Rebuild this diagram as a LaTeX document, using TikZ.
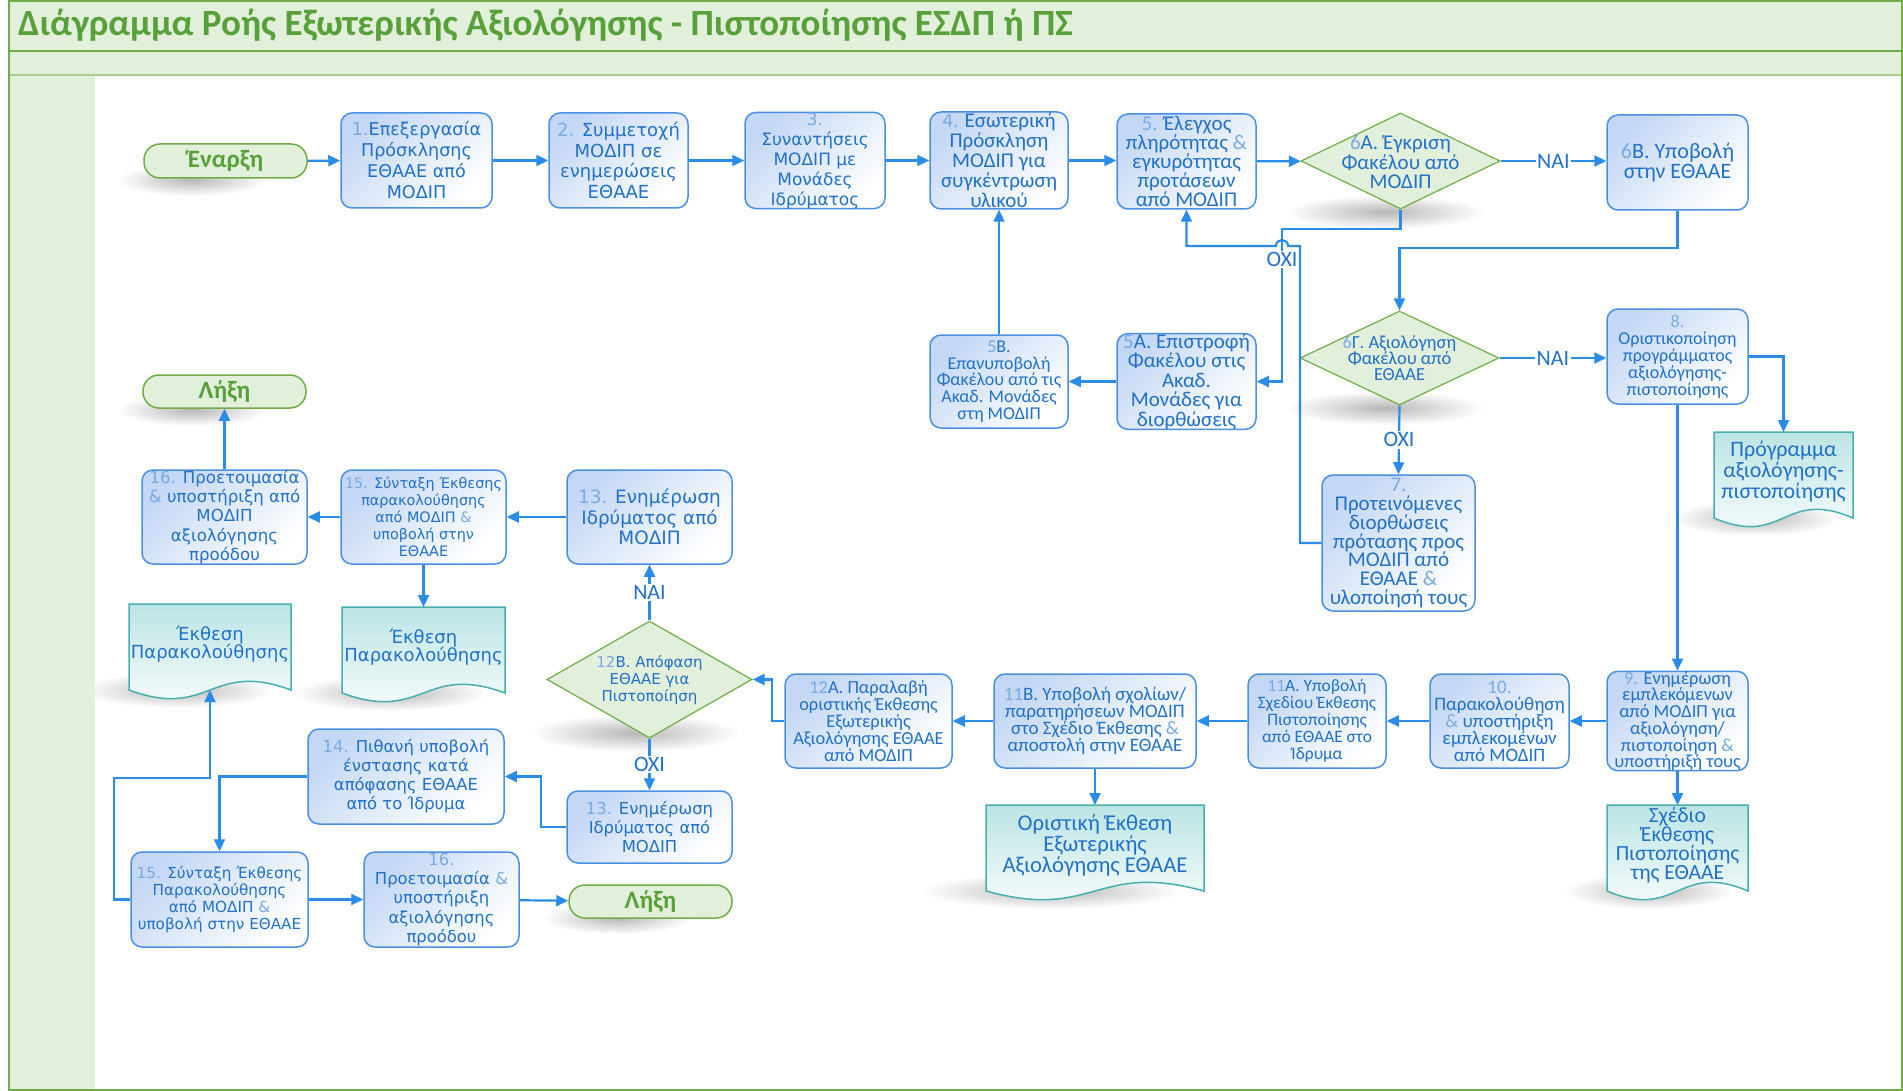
\documentclass[tikz,border=0pt]{standalone}
\usepackage{fontspec}
\setmainfont{Carlito}
\newfontfamily\fc{Carlito}
\newfontfamily\fd{DejaVu Sans}
\usetikzlibrary{shapes.geometric, arrows.meta, calc}
\definecolor{gfill}{RGB}{226,239,218}
\definecolor{gline}{RGB}{112,173,71}
\definecolor{gline2}{RGB}{169,208,142}
\definecolor{gtext}{RGB}{88,160,58}
\definecolor{bline}{RGB}{74,144,226}
\definecolor{bfill}{RGB}{196,215,245}
\definecolor{btext}{RGB}{33,113,200}
\definecolor{blight}{RGB}{120,170,228}
\definecolor{arrc}{RGB}{43,140,232}
\definecolor{dline}{RGB}{70,175,175}
\definecolor{dfill}{RGB}{188,228,228}
\newcommand\lnum[1]{\textcolor{blight}{#1}}
\newcommand\FC[2]{\fc\fontsize{#1}{#2}\selectfont}
\newcommand\FD[2]{\fd\fontsize{#1}{#2}\selectfont}
\tikzset{
  box/.style={draw=bline, line width=1.5pt, rounded corners=11pt, left color=bfill, right color=white, shading angle=45, text=btext, align=center, inner sep=0pt},
  dia/.style={diamond, draw=gline, line width=1.2pt, fill=gfill, inner sep=0pt},
  diatext/.style={text=btext, align=center, inner sep=0pt},
  term/.style={draw=gline, line width=1.5pt, fill=gfill, rounded corners=16pt, text=gtext, font=\fc\bfseries\fontsize{25}{25}\selectfont, inner sep=0pt},
  arr/.style={draw=arrc, line width=2.2pt, -{Triangle[length=12pt,width=11pt]}},
  lbl/.style={fill=white, text=btext, font=\FC{22}{22}, inner sep=1.5pt},
  doct/.style={text=btext, align=center, inner sep=0pt},
  docs/.style={draw=dline, line width=1.5pt, top color=dfill, bottom color=white},
  shad/.style={inner color=black!28, outer color=white},
}
\newcommand\mydoc[6]{%
  \pgfmathsetmacro\dxa{#2}%
  \pgfmathsetmacro\dxb{#2+#4}%
  \pgfmathsetmacro\dxm{#2+0.5*#4}%
  \pgfmathsetmacro\dya{#3}%
  \pgfmathsetmacro\dyb{#3+86}%
  \pgfmathsetmacro\dyc{#3+56}%
  \pgfmathsetmacro\dyd{#3+116}%
  \pgfmathsetmacro\dyt{#3+40}%
  \path[docs] (\dxa,\dya) -- (\dxb,\dya) -- (\dxb,\dyb) .. controls (\dxm,\dyc) and (\dxm,\dyd) .. (\dxa,\dyb) -- cycle;
  \node[doct, font=#5] (#1) at (\dxm,\dyt) {#6};
  \coordinate (#1-top) at (\dxm,\dya);
  \coordinate (#1-bot) at (\dxm,\dyb);
}
\newcommand\docshadow[3]{% left, top, width
  \pgfmathsetmacro\sx{#1+0.3*#3}%
  \pgfmathsetmacro\sy{#2+86}%
  \pgfmathsetmacro\srx{0.6*#3}%
  \shade[shad] (\sx,\sy) ellipse [x radius=\srx, y radius=18];
}
\begin{document}
\begin{tikzpicture}[x=1pt,y=-1pt]
\useasboundingbox (0,0) rectangle (1903,1091);
% shadows
\docshadow{129}{604}{162}
\docshadow{342}{607}{163}
\docshadow{986}{805}{218}
\docshadow{1607}{805}{141}
\docshadow{1714}{432}{139}
\shade[shad] (1385,212) ellipse [x radius=100, y radius=17];
\shade[shad] (1385,408) ellipse [x radius=100, y radius=17];
\shade[shad] (635,733) ellipse [x radius=105, y radius=19];
\shade[shad] (192,180) ellipse [x radius=75, y radius=16];
\shade[shad] (192,410) ellipse [x radius=75, y radius=16];
\shade[shad] (617,918) ellipse [x radius=75, y radius=16];
% frame
\fill[gfill] (9,1) rectangle (1902,75);
\fill[gfill] (9,75) rectangle (95,1090);
\draw[gline, line width=2pt] (9,51) -- (1902,51);
\draw[gline2, line width=2pt] (9,75) -- (1902,75);
\draw[gline, line width=2pt] (9,1) rectangle (1902,1090);
\node[anchor=west, text=gtext, font=\fc\bfseries\fontsize{37}{37}\selectfont, inner sep=0pt] (title) at (18,25) {Διάγραμμα Ροής Εξωτερικής Αξιολόγησης - Πιστοποίησης ΕΣΔΠ ή ΠΣ};
% documents
\mydoc{doc1}{129}{604}{162}{\FD{18}{18.5}}{Έκθεση\\Παρακολούθησης}
\mydoc{doc2}{342}{607}{163}{\FD{18}{18.5}}{Έκθεση\\Παρακολούθησης}
\mydoc{docor}{986}{805}{218}{\FC{22.6}{21}}{Οριστική Έκθεση\\Εξωτερικής\\Αξιολόγησης ΕΘΑΑΕ}
\mydoc{docsx}{1607}{805}{141}{\FC{21.6}{19}}{Σχέδιο\\Έκθεσης\\Πιστοποίησης\\της ΕΘΑΑΕ}
\mydoc{docpr}{1714}{432}{139}{\FC{22}{21}}{Πρόγραμμα\\αξιολόγησης-\\πιστοποίησης}
% terminators
\node[term, minimum width=163pt, minimum height=34pt] (start) at (225.5,161) {Έναρξη};
\node[term, minimum width=163pt, minimum height=33pt] (end1) at (224.5,391.5) {Λήξη};
\node[term, minimum width=163pt, minimum height=33pt] (end2) at (650.5,901.5) {Λήξη};
% row 1
\node[box, minimum width=151pt, minimum height=95pt, font=\FD{17.6}{21}] (b1) at (416.5,160.5) {\lnum{1.}Επεξεργασία\\Πρόσκλησης\\ΕΘΑΑΕ από\\ΜΟΔΙΠ};
\node[box, minimum width=139pt, minimum height=95pt, font=\FD{18}{20.6}] (b2) at (618.5,160.5) {\lnum{2.} Συμμετοχή\\ΜΟΔΙΠ σε\\ενημερώσεις\\ΕΘΑΑΕ};
\node[box, minimum width=140pt, minimum height=95pt, font=\FD{17}{20}] (b3) at (815,160.5) {\lnum{3.}\\Συναντήσεις\\ΜΟΔΙΠ με\\Μονάδες\\Ιδρύματος};
\node[box, minimum width=138pt, minimum height=97pt, font=\FC{21}{20}] (b4) at (999,160.5) {\lnum{4.} Εσωτερική\\Πρόσκληση\\ΜΟΔΙΠ για\\συγκέντρωση\\υλικού};
\node[box, minimum width=139pt, minimum height=95pt, font=\FC{21}{19.2}] (b5) at (1186.5,161.5) {\lnum{5.} Έλεγχος\\πληρότητας \lnum{\&}\\εγκυρότητας\\προτάσεων\\από ΜΟΔΙΠ};
\node[dia, minimum width=199pt, minimum height=96pt] (d6a) at (1400.5,161) {};
\node[diatext, font=\FC{21}{19.4}] (t6a) at (1400.5,162) {\lnum{6}Α. Έγκριση\\Φακέλου από\\ΜΟΔΙΠ};
\node[box, minimum width=141pt, minimum height=95pt, font=\FC{22}{20.6}] (b6b) at (1677.5,162.5) {\lnum{6}Β. Υποβολή\\στην ΕΘΑΑΕ};
% row 2
\node[box, minimum width=138pt, minimum height=93pt, font=\FC{18}{16.7}] (b5b) at (999,381.5) {\lnum{5}Β.\\Επανυποβολή\\Φακέλου από τις\\Ακαδ. Μονάδες\\στη ΜΟΔΙΠ};
\node[box, minimum width=139pt, minimum height=93pt, font=\FC{21}{19.4}] (b5a) at (1186.5,381.5) {\lnum{5}Α. Επιστροφή\\Φακέλου στις\\Ακαδ.\\Μονάδες για\\διορθώσεις};
\node[dia, minimum width=199pt, minimum height=94pt] (d6g) at (1399.5,358) {};
\node[diatext, font=\FC{18.4}{16.4}] (t6g) at (1399.5,358) {\lnum{6}Γ. Αξιολόγηση\\Φακέλου από\\ΕΘΑΑΕ};
\node[box, minimum width=141pt, minimum height=95pt, font=\FC{18}{17}] (b8) at (1677.5,356.5) {\lnum{8.}\\Οριστικοποίηση\\προγράμματος\\αξιολόγησης-\\πιστοποίησης};
\node[box, minimum width=153pt, minimum height=136pt, font=\FC{21}{18.8}] (b7) at (1398.5,543) {\lnum{7.}\\Προτεινόμενες\\διορθώσεις\\πρότασης προς\\ΜΟΔΙΠ από\\ΕΘΑΑΕ \lnum{\&}\\υλοποίησή τους};
% left block
\node[box, minimum width=165pt, minimum height=94pt, font=\FD{16.6}{19.2}] (b16t) at (224.5,517) {\lnum{16.} Προετοιμασία\\\lnum{\&} υποστήριξη από\\ΜΟΔΙΠ\\αξιολόγησης\\προόδου};
\node[box, minimum width=165pt, minimum height=94pt, font=\FD{14.4}{17}] (b15t) at (423.5,517) {\lnum{15.} Σύνταξη Έκθεσης\\παρακολούθησης\\από ΜΟΔΙΠ \lnum{\&}\\υποβολή στην\\ΕΘΑΑΕ};
\node[box, minimum width=165pt, minimum height=94pt, font=\FD{18.4}{20.6}] (b13t) at (649.5,517) {\lnum{13.} Ενημέρωση\\Ιδρύματος από\\ΜΟΔΙΠ};
\node[dia, minimum width=205pt, minimum height=117pt] (d12b) at (649.5,679.5) {};
\node[diatext, font=\FD{15}{17}] (t12b) at (649.5,680) {\lnum{12}Β. Απόφαση\\ΕΘΑΑΕ για\\Πιστοποίηση};
\node[box, minimum width=196pt, minimum height=95pt, font=\FD{16.4}{19}] (b14) at (406,776.5) {\lnum{14.} Πιθανή υποβολή\\ένστασης κατά\\απόφασης ΕΘΑΑΕ\\από το Ίδρυμα};
\node[box, minimum width=165pt, minimum height=72pt, font=\FD{16.4}{19.4}] (b13b) at (649.5,827) {\lnum{13.} Ενημέρωση\\Ιδρύματος από\\ΜΟΔΙΠ};
\node[box, minimum width=177pt, minimum height=95pt, font=\FD{15.2}{17}] (b15b) at (219.5,899.5) {\lnum{15.} Σύνταξη Έκθεσης\\Παρακολούθησης\\από ΜΟΔΙΠ \lnum{\&}\\υποβολή στην ΕΘΑΑΕ};
\node[box, minimum width=155pt, minimum height=95pt, font=\FD{16.4}{19.2}] (b16b) at (441.5,899.5) {\lnum{16.}\\Προετοιμασία \lnum{\&}\\υποστήριξη\\αξιολόγησης\\προόδου};
% row 3
\node[box, minimum width=167pt, minimum height=94pt, font=\FC{18.4}{17}] (b12a) at (868.5,721) {\lnum{12}Α. Παραλαβή\\οριστικής Έκθεσης\\Εξωτερικής\\Αξιολόγησης ΕΘΑΑΕ\\από ΜΟΔΙΠ};
\node[box, minimum width=202pt, minimum height=94pt, font=\FC{19}{17}] (b11b) at (1095,721) {\lnum{11}Β. Υποβολή σχολίων/\\παρατηρήσεων ΜΟΔΙΠ\\στο Σχέδιο Έκθεσης \lnum{\&}\\αποστολή στην ΕΘΑΑΕ};
\node[box, minimum width=138pt, minimum height=94pt, font=\FC{17.4}{17}] (b11a) at (1317,721) {\lnum{11}Α. Υποβολή\\Σχεδίου Έκθεσης\\Πιστοποίησης\\από ΕΘΑΑΕ στο\\Ίδρυμα};
\node[box, minimum width=139pt, minimum height=94pt, font=\FC{19}{17}] (b10) at (1499.5,721) {\lnum{10.}\\Παρακολούθηση\\\lnum{\&} υποστήριξη\\εμπλεκομένων\\από ΜΟΔΙΠ};
\node[box, minimum width=141pt, minimum height=97pt, font=\FC{18.4}{16.7}] (b9) at (1677.5,721) {\lnum{9.} Ενημέρωση\\εμπλεκόμενων\\από ΜΟΔΙΠ για\\αξιολόγηση/\\πιστοποίηση \lnum{\&}\\υποστήριξή τους};
% connectors
\draw[arr] (start) -- (b1);
\draw[arr] (b1) -- (b2);
\draw[arr] (b2) -- (b3);
\draw[arr] (b3) -- (b4);
\draw[arr] (b4.east) -- (b5.west |- b4.east);
\draw[arr] (b5) -- (d6a);
\draw[arr] (d6a) -- node[lbl]{ΝΑΙ} (b6b.west |- d6a.east);
\coordinate (j1) at (1282,229);
\coordinate (j2) at (1282,381.5);
\draw[arr] (d6a.south) |- (j1) -- node[lbl,pos=0.2]{ΟΧΙ} (j2) -- (b5a.east);
\coordinate (k1) at (1300,543);
\coordinate (k2) at (1300,246);
\coordinate (k3) at (1288,246);
\coordinate (k4) at (1276,246);
\draw[arr] (b7.west) -- (k1) -- (k2) -- (k3) .. controls (1288,238) and (1276,238) .. (k4) -- (b5.south |- k2) -- (b5.south);
\coordinate (m1) at (1677.5,248);
\draw[arr] (b6b.south) -- (m1) -| (d6g.north);
\draw[arr] (d6g) -- node[lbl]{ΝΑΙ} (b8.west |- d6g.east);
\draw[arr] (d6g.south) -- node[lbl]{ΟΧΙ} (b7.north);
\draw[arr] (b8.east) -| (docpr-top);
\draw[arr] (b8.south) -- (b9.north);
\draw[arr] (b5a) -- (b5b);
\draw[arr] (b5b) -- (b4);
\draw[arr] (b9) -- (b10);
\draw[arr] (b10) -- (b11a);
\draw[arr] (b11a) -- (b11b);
\draw[arr] (b11b) -- (b12a);
\draw[arr] (b9.south) -- (docsx-top);
\draw[arr] (b11b.south) -- (docor-top);
\draw[arr] (b12a.west) -- ++(-12,0) |- (d12b.east);
\draw[arr] (d12b.north) -- node[lbl]{ΝΑΙ} (b13t.south);
\draw[arr] (d12b.south) -- node[lbl]{ΟΧΙ} (b13b.north);
\draw[arr] (b13t) -- (b15t);
\draw[arr] (b15t) -- (b16t);
\draw[arr] (b16t) -- (end1);
\draw[arr] (b15t.south) -- (doc2-top);
\draw[arr] (b13b.west) -- ++(-25,0) |- (b14.east);
\draw[arr] (b14.west) -| (b15b.north);
\coordinate (q1) at (114,778);
\draw[arr] (b15b.west) -| (q1) -| (doc1-bot);
\draw[arr] (b15b) -- (b16b);
\draw[arr] (b16b) -- (end2);
\end{tikzpicture}
\end{document}
